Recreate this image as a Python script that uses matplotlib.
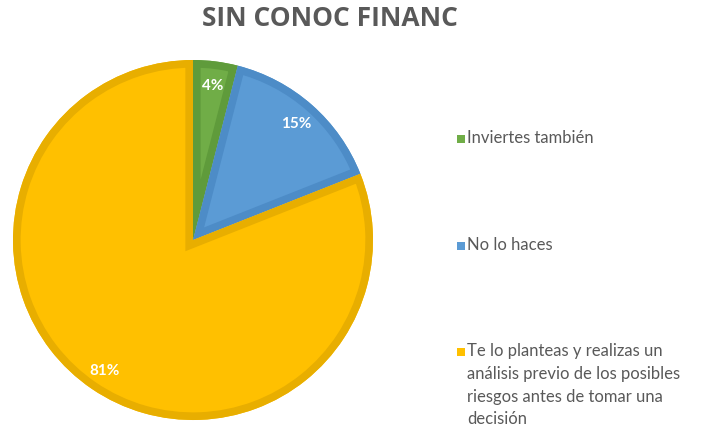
import matplotlib
matplotlib.use("Agg")
import matplotlib.pyplot as plt
from matplotlib.patches import Rectangle, Wedge

title = "SIN CONOC FINANC"
categories = ["Inviertes también", "No lo haces",
              "Te lo planteas y realizas un\nanálisis previo de los posibles\nriesgos antes de tomar una\ndecisión"]
values = [4, 15, 81]
fills = ["#70AD47", "#5B9BD5", "#FFC000"]
edges = ["#5F9B3B", "#4D8CC7", "#E8AE00"]

W, H = 705, 427
fig = plt.figure(figsize=(W / 100, H / 100), dpi=100)
plt.rcParams['font.family'] = ['Lato', 'DejaVu Sans']

cx, cy, r = 193, 241, 180
ax = fig.add_axes([(cx - r) / W, (H - cy - r) / H, 2 * r / W, 2 * r / H])
wedges, texts, autotexts = ax.pie(values, colors=fills, startangle=90, counterclock=False,
                                  autopct='%1.0f%%', pctdistance=0.87, radius=1.0,
                                  wedgeprops=dict(linewidth=0))
for w, ec in zip(wedges, edges):
    b = Wedge(w.center, w.r, w.theta1, w.theta2, fill=False, edgecolor=ec,
              linewidth=11, joinstyle='miter', zorder=w.get_zorder() + 0.1)
    ax.add_patch(b)
    b.set_clip_path(w)
for t in autotexts:
    t.set_color('white')
    t.set_fontweight('bold')
    t.set_fontsize(11)
    t.set_zorder(5)
ax.set_xlim(-1, 1)
ax.set_ylim(-1, 1)
ax.set_aspect('equal')
ax.axis('off')

fig.text(330 / W, 1 - 19 / H, title, ha='center', va='center', fontsize=19,
         fontweight='bold', color='#595959', family=['Open Sans', 'DejaVu Sans'])

# manual legend
baselines = [143, 250, 356]
for lab, col, yb in zip(categories, fills, baselines):
    fig.patches.append(Rectangle((457 / W, 1 - (yb + 0.5) / H), 7.5 / W, 8 / H,
                                 transform=fig.transFigure, facecolor=col, edgecolor='none'))
    fig.text(467 / W, 1 - (yb - 13) / H, lab, ha='left', va='top', fontsize=12,
             color='#595959', linespacing=1.52)

fig.savefig("out.png", dpi=100)
